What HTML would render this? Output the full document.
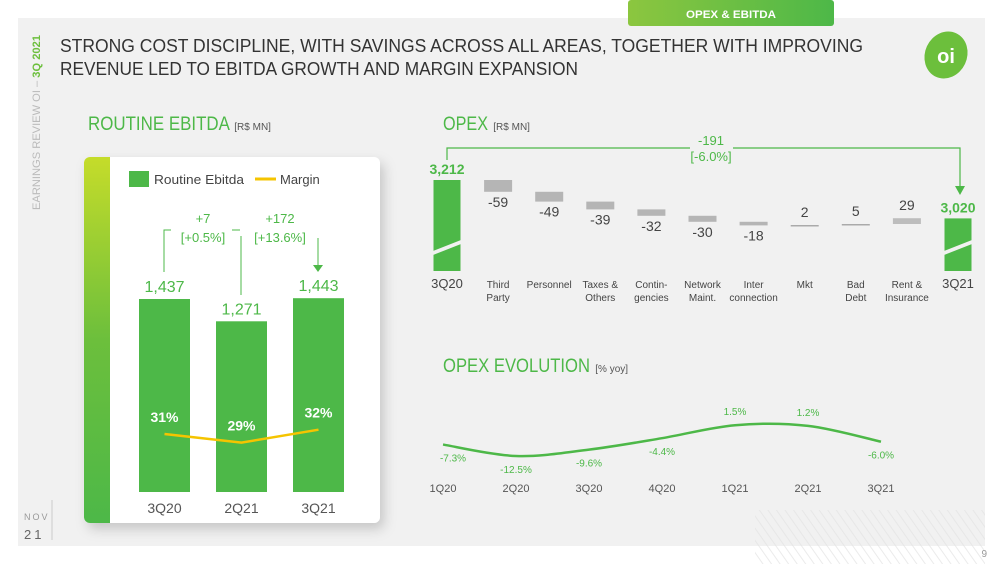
<!DOCTYPE html>
<html><head><meta charset="utf-8"><style>
body{margin:0;width:1003px;height:564px;background:#fff;overflow:hidden;font-family:"Liberation Sans",sans-serif}
svg{position:absolute;left:0;top:0}
text{font-family:"Liberation Sans",sans-serif}
</style></head><body>
<svg id="s" width="1003" height="564" viewBox="0 0 1003 564">
<defs>
<linearGradient id="tab" x1="0" x2="1"><stop offset="0" stop-color="#8cc63f"/><stop offset="1" stop-color="#4db848"/></linearGradient>
<linearGradient id="strip" x1="0" y1="0" x2="0" y2="1"><stop offset="0" stop-color="#c5dc2a"/><stop offset="0.5" stop-color="#6cbf3c"/><stop offset="1" stop-color="#4db848"/></linearGradient>
<filter id="sh" x="-10%" y="-10%" width="130%" height="130%"><feDropShadow dx="4" dy="6" stdDeviation="6" flood-color="#000" flood-opacity="0.18"/></filter>
<pattern id="hatch" width="7" height="7" patternUnits="userSpaceOnUse" patternTransform="rotate(-35)"><rect width="1" height="7" fill="#e2e2e2"/></pattern>
</defs>
<rect x="18" y="18" width="967" height="528" fill="#f1f1f1"/>
<rect x="755" y="510" width="230" height="54" fill="url(#hatch)" opacity="0.7"/>
<rect x="628" y="0" width="206" height="26" rx="3" fill="url(#tab)"/>
<text x="731" y="18" font-size="11" font-weight="bold" fill="#fff" text-anchor="middle" textLength="90" lengthAdjust="spacingAndGlyphs">OPEX &amp; EBITDA</text>
<text transform="translate(40,210) rotate(-90)" font-size="11" fill="#bbb" textLength="175" lengthAdjust="spacingAndGlyphs">EARNINGS REVIEW OI – <tspan fill="#6cbf3c" font-weight="bold">3Q 2021</tspan></text>
<line x1="52" y1="500" x2="52" y2="540" stroke="#ccc"/>
<text x="24" y="520" font-size="9" fill="#999" letter-spacing="2">NOV</text>
<text x="24" y="539" font-size="13" fill="#666" letter-spacing="3">21</text>
<text x="60" y="52" font-size="18" fill="#333" textLength="803" lengthAdjust="spacingAndGlyphs">STRONG COST DISCIPLINE, WITH SAVINGS ACROSS ALL AREAS, TOGETHER WITH IMPROVING</text>
<text x="60" y="75" font-size="18" fill="#333" textLength="518" lengthAdjust="spacingAndGlyphs">REVENUE LED TO EBITDA GROWTH AND MARGIN EXPANSION</text>
<ellipse cx="946" cy="55" rx="21" ry="24" fill="#6cbf3c" transform="rotate(25 946 55)"/>
<text x="946" y="63" font-size="20" font-weight="bold" fill="#fff" text-anchor="middle">oi</text>
<text x="88" y="130" font-size="19" fill="#4db848"><tspan textLength="141" lengthAdjust="spacingAndGlyphs">ROUTINE EBITDA</tspan> <tspan font-size="10" fill="#555">[R$ MN]</tspan></text>
<text x="443" y="130" font-size="19" fill="#4db848"><tspan textLength="45" lengthAdjust="spacingAndGlyphs">OPEX</tspan> <tspan font-size="10" fill="#555">[R$ MN]</tspan></text>
<text x="443" y="372" font-size="19" fill="#4db848"><tspan textLength="147" lengthAdjust="spacingAndGlyphs">OPEX EVOLUTION</tspan> <tspan font-size="10" fill="#555">[% yoy]</tspan></text>
<rect x="84" y="157" width="296" height="366" rx="6" fill="#fff" filter="url(#sh)"/>
<path d="M90 157 H110 V523 H90 a6 6 0 0 1 -6 -6 V163 a6 6 0 0 1 6 -6z" fill="url(#strip)"/>
<rect x="129" y="171" width="20" height="16" fill="#4db848"/>
<text x="154" y="184" font-size="13" fill="#444" textLength="90" lengthAdjust="spacingAndGlyphs">Routine Ebitda</text>
<line x1="255" y1="179" x2="276" y2="179" stroke="#f5c400" stroke-width="3"/>
<text x="280" y="184" font-size="13" fill="#444">Margin</text>
<g stroke="#4db848" fill="none" stroke-width="1">
<path d="M164 272 V230 H171"/><path d="M232 230 H240"/><path d="M241 236 V295"/><path d="M318 238 V268"/>
</g>
<path d="M313 265 L318 272 L323 265z" fill="#4db848"/>
<text x="203" y="223" font-size="13" fill="#4db848" text-anchor="middle">+7</text>
<text x="203" y="242" font-size="13" fill="#4db848" text-anchor="middle">[+0.5%]</text>
<text x="280" y="223" font-size="13" fill="#4db848" text-anchor="middle">+172</text>
<text x="280" y="242" font-size="13" fill="#4db848" text-anchor="middle">[+13.6%]</text>
<g id="ebitda"></g>
<g id="opex"></g>
<g id="evo"></g>
<text x="987" y="557" font-size="10" fill="#999" text-anchor="end">9</text>
</svg>
<script>
const NS='http://www.w3.org/2000/svg';
function mk(p,t,a,txt){const e=document.createElementNS(NS,t);for(const k in a)e.setAttribute(k,a[k]);if(txt!==undefined)e.textContent=txt;p.appendChild(e);return e;}

// EBITDA chart data
const ebitdaCats=['3Q20','2Q21','3Q21'];
const ebitdaVals=[1437,1271,1443];
const marginVals=[31,29,32];
const marginLabels=['31%','29%','32%'];

// OPEX waterfall data
const opexCats=[['3Q20'],['Third','Party'],['Personnel'],['Taxes &','Others'],['Contin-','gencies'],['Network','Maint.'],['Inter','connection'],['Mkt'],['Bad','Debt'],['Rent &','Insurance'],['3Q21']];
const opexStart=3212;
const opexDeltas=[-59,-49,-39,-32,-30,-18,2,5,29];
const opexEnd=3020;
const opexTotalDelta='-191';
const opexTotalPct='[-6.0%]';

// OPEX evolution data
const evoCats=['1Q20','2Q20','3Q20','4Q20','1Q21','2Q21','3Q21'];
const evoVals=[-7.3,-12.5,-9.6,-4.4,1.5,1.2,-6.0];
const evoLabels=['-7.3%','-12.5%','-9.6%','-4.4%','1.5%','1.2%','-6.0%'];

// --- EBITDA
(function(){
const g=document.getElementById('ebitda');
const base=492, k=193/1437;
const xC=i=>164.5+i*77, yV=v=>base-v*k;
const yM=v=>434-(v-31)*4.3;
ebitdaVals.forEach((v,i)=>{
 const r=mk(g,'rect',{x:xC(i)-25.5,y:yV(v),width:51,height:base-yV(v),fill:'#4db848'});
 
 
 const t=mk(g,'text',{x:xC(i),y:yV(v)-7,'font-size':16,fill:'#4db848','text-anchor':'middle'},v.toLocaleString('en-US'));
 
 
 const c=mk(g,'text',{x:xC(i),y:513,'font-size':14,fill:'#555','text-anchor':'middle'},ebitdaCats[i]);
 
 
});
const pts=marginVals.map((v,i)=>xC(i)+','+yM(v)).join(' ');
const pl=mk(g,'polyline',{points:pts,fill:'none',stroke:'#f5c400','stroke-width':2.5});


marginVals.forEach((v,i)=>{
 const t=mk(g,'text',{x:xC(i),y:yM(v)-12,'font-size':14,'font-weight':'bold',fill:'#fff','text-anchor':'middle'},marginLabels[i]);
 
 
});
})();

// --- OPEX waterfall
(function(){
const g=document.getElementById('opex');
const top=180, k=0.2, base=271;
const xC=i=>447+i*51.1, yV=v=>top+(opexStart-v)*k;
function cat(i){
 opexCats[i].forEach((l,j)=>{
  const t=mk(g,'text',{x:xC(i),y:288+j*13,'font-size':i==0||i==10?13:10,fill:'#444','text-anchor':'middle'},l);
  
  
 });
}
function endBar(i,v,lab){
 const r=mk(g,'rect',{x:xC(i)-13.5,y:yV(v),width:27,height:base-yV(v),fill:'#4db848'});
 
 
 const b=mk(g,'polygon',{points:`${xC(i)-14},${base-20} ${xC(i)+14},${base-31} ${xC(i)+14},${base-27} ${xC(i)-14},${base-16}`,fill:'#f1f1f1'});
 
 
 const t=mk(g,'text',{x:xC(i),y:yV(v)-6,'font-size':14,'font-weight':'bold',fill:'#4db848','text-anchor':'middle'},v.toLocaleString('en-US'));
 
 
 cat(i);
}
endBar(0,opexStart,'3q20');
let cur=opexStart;
opexDeltas.forEach((d,j)=>{
 const i=j+1, nxt=cur+d;
 const y1=Math.min(yV(cur),yV(nxt)), h=Math.max(Math.abs(d)*k,1.5);
 const r=mk(g,'rect',{x:xC(i)-14,y:y1,width:28,height:h,fill:d<0?'#b5b5b5':(Math.abs(d)<10?'#aaa':'#bdbdbd')});
 
 
 const ly=d<0?y1+h+15:y1-8;
 const t=mk(g,'text',{x:xC(i),y:ly,'font-size':14,fill:'#444','text-anchor':'middle'},String(d));
 
 
 cat(i);
 cur=nxt;
});
endBar(10,opexEnd,'3q21');
const br=mk(g,'path',{d:`M${xC(0)} 160 V148 H690 M733 148 H${xC(10)+2} V188`,fill:'none',stroke:'#4db848','stroke-width':1.2});


const ar=mk(g,'path',{d:`M${xC(10)-3} 186 L${xC(10)+2} 195 L${xC(10)+7} 186z`,fill:'#4db848'});


const t1=mk(g,'text',{x:711,y:145,'font-size':13,fill:'#4db848','text-anchor':'middle'},opexTotalDelta);


const t2=mk(g,'text',{x:711,y:161,'font-size':13,fill:'#4db848','text-anchor':'middle'},opexTotalPct);


})();

// --- OPEX evolution
(function(){
const g=document.getElementById('evo');
const xC=i=>443+i*73, yV=v=>428.5-v*2.2;
const p=evoVals.map((v,i)=>[xC(i),yV(v)]);
let d=`M${p[0][0]},${p[0][1]}`;
for(let i=0;i<p.length-1;i++){
 const p0=p[Math.max(0,i-1)],p1=p[i],p2=p[i+1],p3=p[Math.min(p.length-1,i+2)];
 const c1=[p1[0]+(p2[0]-p0[0])/6,p1[1]+(p2[1]-p0[1])/6],c2=[p2[0]-(p3[0]-p1[0])/6,p2[1]-(p3[1]-p1[1])/6];
 d+=` C${c1[0]},${c1[1]} ${c2[0]},${c2[1]} ${p2[0]},${p2[1]}`;
}
const l=mk(g,'path',{d:d,fill:'none',stroke:'#4db848','stroke-width':2.5});


evoVals.forEach((v,i)=>{
 const t=mk(g,'text',{x:xC(i)+(i==0?10:0),y:v>=0?yV(v)-10:yV(v)+17,'font-size':10,fill:'#4db848','text-anchor':'middle'},evoLabels[i]);
 
 
 const c=mk(g,'text',{x:xC(i),y:492,'font-size':11,fill:'#555','text-anchor':'middle'},evoCats[i]);
 
 
});
})();
</script>
</body></html>
